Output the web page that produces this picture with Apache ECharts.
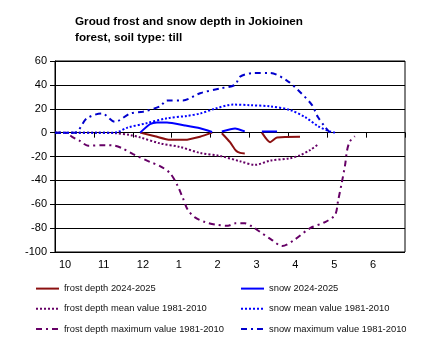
<!DOCTYPE html>
<html>
<head>
<meta charset="utf-8">
<script src="https://cdn.jsdelivr.net/npm/echarts@6/dist/echarts.min.js"></script>
<style>
  html, body { margin: 0; padding: 0; background: #fff; }
  #chart { width: 430px; height: 352px; }
</style>
</head>
<body>
<div id="chart"></div>
<script>
// x = months since 1 October, values in cm (frost negative, snow positive)
const monthLabels = ["10", "11", "12", "1", "2", "3", "4", "5", "6", ""];

const frostNowMonth = [2.19, 2.57, 2.96, 3.34, 3.73, 4.04, null, 4.29, 4.5, 4.65, 4.76, 4.88, null, 5.32, 5.53, 5.71, 6.3];
const frostNowDepth = [0, -3, -6, -6, -3.4, 0, null, -0.5, -8, -15, -17, -17.5, null, 0, -8, -4, -3.5];

const snowNowMonth = [2.19, 2.44, 2.62, 2.88, 3.34, 3.73, 4.04, null, 4.29, 4.63, 4.88, null, 5.32, 5.71];
const snowNowDepth = [0, 7, 8.5, 8.5, 6, 3.6, 0.5, null, 1, 3.5, 1, null, 1, 1];

const frostMeanMonth = [0, 0.51, 1.03, 1.54, 1.93, 2.19, 2.7, 3.21, 3.73, 4.24, 4.76, 5.14, 5.53, 6.04, 6.3, 6.56, 6.76];
const frostMeanDepth = [0, 0, 0, -0.5, -2, -4, -9, -12, -17, -19.5, -24, -27, -23.5, -21.5, -19, -14.6, -10];

const snowMeanMonth = [0, 0.51, 1.03, 1.54, 1.62, 1.85, 2.37, 2.88, 3.39, 3.73, 4.11, 4.58, 5.01, 5.53, 6.04, 6.43, 6.76, 7.07, 7.2];
const snowMeanDepth = [0, 0, 0, 0, 0.5, 4, 8, 12, 14, 16, 20, 23.5, 23, 22, 19, 13, 5.5, 1, 0];

const frostMaxMonth = [0, 0.26, 0.44, 0.64, 0.85, 1.29, 1.54, 1.72, 2.01, 2.44, 2.7, 2.96, 3.16, 3.29, 3.42, 3.6, 3.86, 4.11, 4.45, 4.63, 4.88, 5.06, 5.22, 5.58, 5.84, 6.17, 6.56, 6.94, 7.2, 7.28, 7.38, 7.46, 7.51, 7.58, 7.71];
const frostMaxDepth = [0, 0, -3.5, -7, -11, -10.5, -11, -13, -18, -24.5, -28, -34, -45, -55, -65, -71, -75, -77, -78, -76, -76, -78.5, -82, -90, -95, -89.5, -80, -75, -69, -57, -41, -27, -15, -7.5, -3];

const snowMaxMonth = [0, 0.51, 0.82, 1.21, 1.54, 1.93, 2.26, 2.7, 2.88, 3.29, 3.73, 4.24, 4.63, 4.76, 5.14, 5.53, 5.99, 6.3, 6.61, 6.76, 6.94, 7.07];
const snowMaxDepth = [0, 0, 12, 16, 9, 16, 17.5, 22, 27, 27, 33, 37, 40, 47, 50, 50, 43, 34, 23, 13, 5, 0];

function pairs(xs, ys) {
  return xs.map((x, i) => (x === null ? [null, null] : [x, ys[i]]));
}

const font = 'Arial, "Liberation Sans", sans-serif';
const dashDot = [6, 4, 2, 4];
const dotted = [2, 2];

const chart = echarts.init(document.getElementById("chart"));

function legendColumn(left, names) {
  return {
    orient: "vertical",
    left: left,
    top: 278,
    itemWidth: 23,
    itemHeight: 14,
    itemGap: 9,
    itemStyle: { opacity: 0 },
    textStyle: { fontFamily: font, fontSize: 9.4, color: "#111" },
    data: names
  };
}

function lineSeries(name, xs, ys, color, type, smooth) {
  return {
    name: name,
    type: "line",
    data: pairs(xs, ys),
    symbol: "none",
    smooth: smooth,
    lineStyle: { color: color, width: 2, type: type },
    itemStyle: { color: color }
  };
}

const option = {
  animation: false,
  backgroundColor: "#fff",
  textStyle: { fontFamily: font },
  title: {
    text: "Groud frost and snow depth in Jokioinen\nforest, soil type: till",
    left: 70,
    top: 9,
    textStyle: { fontFamily: font, fontSize: 11.7, fontWeight: "bold", color: "#000", lineHeight: 16 }
  },
  legend: [
    legendColumn(30, ["frost depth 2024-2025", "frost depth mean value 1981-2010", "frost depth maximum value 1981-2010"]),
    legendColumn(235, ["snow 2024-2025", "snow mean value 1981-2010", "snow maximum value 1981-2010"])
  ],
  grid: {
    left: 55,
    right: 25,
    top: 61,
    bottom: 100,
    show: true,
    borderColor: "#000",
    borderWidth: 1
  },
  xAxis: [
    {
      type: "value",
      min: 0,
      max: 9,
      interval: 1,
      axisLine: { show: false, onZero: false },
      axisTick: { show: false },
      splitLine: { show: false },
      axisLabel: {
        color: "#000",
        fontSize: 11,
        fontFamily: font,
        align: "left",
        padding: [0, 0, 0, 4],
        margin: 7,
        formatter: (v) => monthLabels[Math.round(v)] || ""
      }
    },
    {
      type: "value",
      position: "bottom",
      min: 0,
      max: 9,
      interval: 1,
      axisLine: { show: true, onZero: true, onZeroAxisIndex: 0, lineStyle: { color: "#000", width: 1 } },
      axisTick: { show: true, inside: false, length: 5, lineStyle: { color: "#000", width: 1 } },
      axisLabel: { show: false },
      splitLine: { show: false }
    }
  ],
  yAxis: {
    type: "value",
    min: -100,
    max: 60,
    interval: 20,
    axisLine: { show: true, onZero: false, lineStyle: { color: "#000" } },
    axisTick: { show: true, length: 5, lineStyle: { color: "#000" } },
    splitLine: { show: true, lineStyle: { color: "#000", width: 1 } },
    axisLabel: { color: "#000", fontSize: 11, fontFamily: font, margin: 8 }
  },
  series: [
    lineSeries("frost depth 2024-2025", frostNowMonth, frostNowDepth, "#8b1010", "solid", 0.2),
    lineSeries("frost depth mean value 1981-2010", frostMeanMonth, frostMeanDepth, "#660066", dotted, 0.3),
    lineSeries("frost depth maximum value 1981-2010", frostMaxMonth, frostMaxDepth, "#660066", dashDot, 0.3),
    lineSeries("snow 2024-2025", snowNowMonth, snowNowDepth, "#0000ff", "solid", 0.2),
    lineSeries("snow mean value 1981-2010", snowMeanMonth, snowMeanDepth, "#0000ff", dotted, 0.3),
    lineSeries("snow maximum value 1981-2010", snowMaxMonth, snowMaxDepth, "#0000cc", dashDot, 0.3)
  ]
};

chart.setOption(option);
</script>
</body>
</html>
